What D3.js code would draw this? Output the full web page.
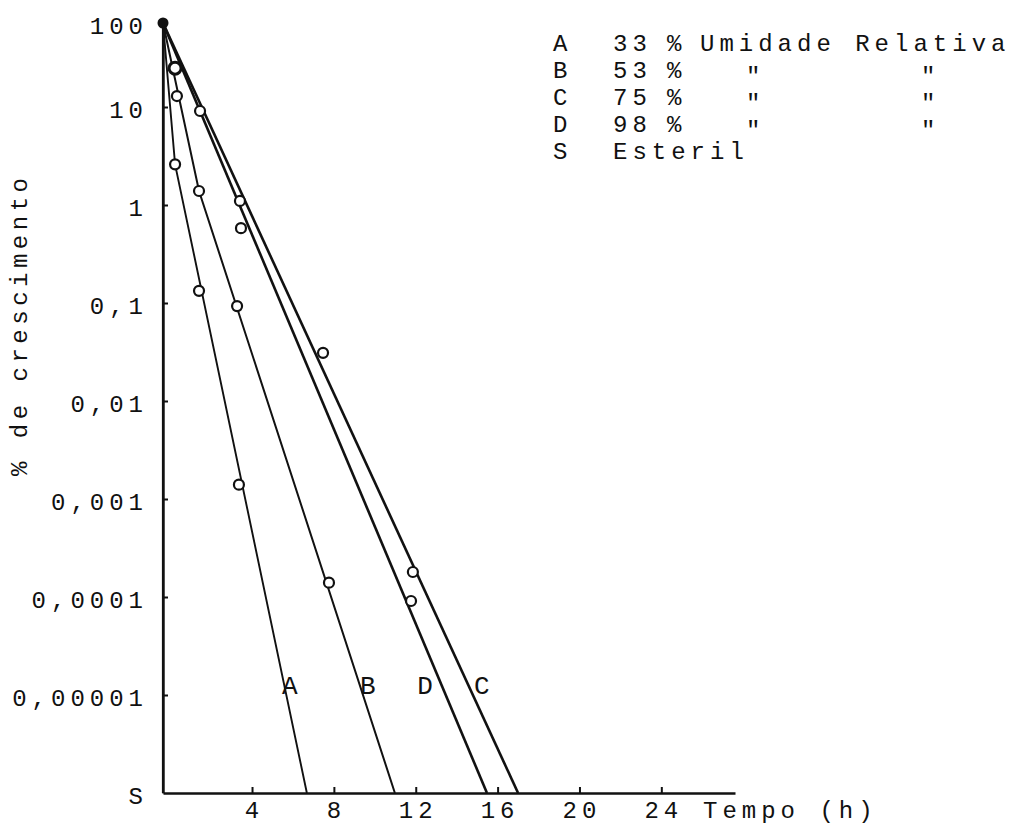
<!DOCTYPE html>
<html>
<head>
<meta charset="utf-8">
<script src="https://cdn.jsdelivr.net/npm/d3@7"></script>
<style>
  body { margin: 0; background: #fff; }
  svg { display: block; }
  text { font-family: "Liberation Mono", "DejaVu Sans Mono", monospace; font-size: 24px; fill: #111; letter-spacing: 5px; }
</style>
</head>
<body>
<svg id="chart" width="1019" height="824"></svg>
<script>
// origem das curvas (sobre o eixo) e nivel "S" = esteril
const tStart = -0.35;
const sLevel = 1e-6;

const xTicks = [4, 8, 12, 16, 20, 24];
const yTicks = [1e-6, 1e-5, 1e-4, 1e-3, 1e-2, 0.1, 1, 10, 100];
const yTickLabels = ["S", "0,00001", "0,0001", "0,001", "0,01", "0,1", "1", "10", "100"];

// retas tracadas (vertices: tempo em h, % de crescimento)
const lineA = [[tStart, 100], [0.24, 2.6], [6.68, sLevel]];
const lineB = [[tStart, 100], [1.41, 1.39], [10.98, sLevel]];
const lineC = [[tStart, 100], [17.0, sLevel]];
const lineD = [[tStart, 100], [15.48, sLevel]];
const lineS = [[tStart, 100], [tStart, sLevel]];

// pontos medidos
const pointsA = [[0.24, 2.6], [1.41, 0.133], [3.36, 0.0014]];
const pointsB = [[0.24, 29], [0.33, 13.5], [1.41, 1.39], [3.27, 0.093], [7.76, 0.00014]];
const pointsC = [[3.41, 1.1], [7.47, 0.031], [11.86, 0.00018]];
const pointsD = [[1.46, 9.1], [3.46, 0.58], [11.77, 0.000091]];

// letras junto as retas
const curveNames = ["A", "B", "D", "C"];
const curveLabelTimes = [5.85, 9.66, 12.45, 15.23];
const curveLabelLevel = 1.26e-5;

// legenda
const legendKeys = ["A", "B", "C", "D", "S"];
const legendPct = ["33", "53", "75", "98", ""];
const legendText = ["Umidade Relativa", "\"", "\"", "\"", "Esteril"];

const svg = d3.select('#chart');
const g = svg.append('g');

const x = d3.scaleLinear().domain([tStart, 27.6]).range([163, 735]);
const y = d3.scaleLog().domain([sLevel, 10, 100]).range([793, 107, 23]);

function drawAxes() {
  const axisY = d3.axisLeft(y)
    .tickValues(yTicks)
    .tickFormat((d, i) => yTickLabels[i])
    .tickSizeInner(-5)
    .tickSizeOuter(0)
    .tickPadding(15);

  const gy = g.append('g').attr('class', 'axis axis-y')
    .attr('transform', `translate(${x(tStart)},0)`)
    .call(axisY);

  const axisX = d3.axisBottom(x)
    .tickValues(xTicks)
    .tickSizeInner(-6)
    .tickSizeOuter(0)
    .tickPadding(8);

  const gx = g.append('g').attr('class', 'axis axis-x')
    .attr('transform', `translate(0,${y(sLevel)})`)
    .call(axisX);

  [gx, gy].forEach(a => {
    a.attr('font-size', null).attr('font-family', null);
    a.select('.domain').attr('stroke', '#111').attr('stroke-width', 2.4);
    a.selectAll('.tick line').attr('stroke', '#111').attr('stroke-width', 2);
    a.selectAll('.tick text').attr('fill', '#111');
  });
  gy.selectAll('.tick text').attr('dy', '0.45em');
  gx.selectAll('.tick text').attr('dx', '2px');
  // sem traco no S e no 100
  gy.selectAll('.tick line').filter(d => d === sLevel || d === 100).remove();

  g.append('text')
    .attr('x', 703)
    .attr('y', y(sLevel) + 25)
    .text('Tempo (h)');

  g.append('text')
    .attr('transform', `translate(27,${y(0.06)}) rotate(-90)`)
    .attr('text-anchor', 'middle')
    .style('letter-spacing', '4.5px')
    .text('% de crescimento');
}

function drawLines() {
  const line = d3.line().x(d => x(d[0])).y(d => y(d[1]));

  const curves = [
    { pts: lineS, w: 2.2 },
    { pts: lineA, w: 1.9 },
    { pts: lineB, w: 2.0 },
    { pts: lineD, w: 2.6 },
    { pts: lineC, w: 2.6 }
  ];

  curves.forEach(c => {
    g.append('path')
      .attr('d', line(c.pts))
      .attr('fill', 'none')
      .attr('stroke', '#111')
      .attr('stroke-width', c.w);
  });

  // ponto inicial (100 %)
  g.append('circle')
    .attr('cx', x(tStart))
    .attr('cy', y(100))
    .attr('r', 5.5)
    .attr('fill', '#111');

  const allPoints = [].concat(pointsA, pointsB, pointsC, pointsD);
  g.selectAll('.pt')
    .data(allPoints)
    .enter()
    .append('circle')
    .attr('class', 'pt')
    .attr('cx', d => x(d[0]))
    .attr('cy', d => y(d[1]))
    .attr('r', d => (d[1] === 29 ? 6 : 5))
    .attr('fill', '#fff')
    .attr('stroke', '#111')
    .attr('stroke-width', d => (d[1] === 29 ? 3 : 2.2));

  curveNames.forEach((name, i) => {
    g.append('text')
      .attr('x', x(curveLabelTimes[i]))
      .attr('y', y(curveLabelLevel))
      .attr('dy', '0.35em')
      .attr('text-anchor', 'middle')
      .style('letter-spacing', '0px')
      .style('font-size', '26px')
      .text(name);
  });
}

function drawLegend() {
  const rowH = 27;
  const top = 43;
  const leg = g.append('g').attr('class', 'legend').style('letter-spacing', '5.8px');

  legendKeys.forEach((k, i) => {
    const row = leg.append('g').attr('transform', `translate(0,${top + i * rowH})`);
    row.append('text').attr('x', 553).attr('dy', '0.35em').text(k);
    if (legendPct[i]) {
      row.append('text').attr('x', 613).attr('dy', '0.35em').text(legendPct[i]);
      row.append('text').attr('x', 667).attr('dy', '0.35em').text('%');
    }
    if (legendText[i] === '"') {
      row.append('text').attr('x', 746).attr('dy', '0.6em').text('"');
      row.append('text').attr('x', 921).attr('dy', '0.6em').text('"');
    } else if (legendPct[i]) {
      row.append('text').attr('x', 700).attr('dy', '0.35em').text(legendText[i]);
    } else {
      row.append('text').attr('x', 613).attr('dy', '0.35em').text(legendText[i]);
    }
  });
}

drawLines();
drawAxes();
drawLegend();
</script>
</body>
</html>
